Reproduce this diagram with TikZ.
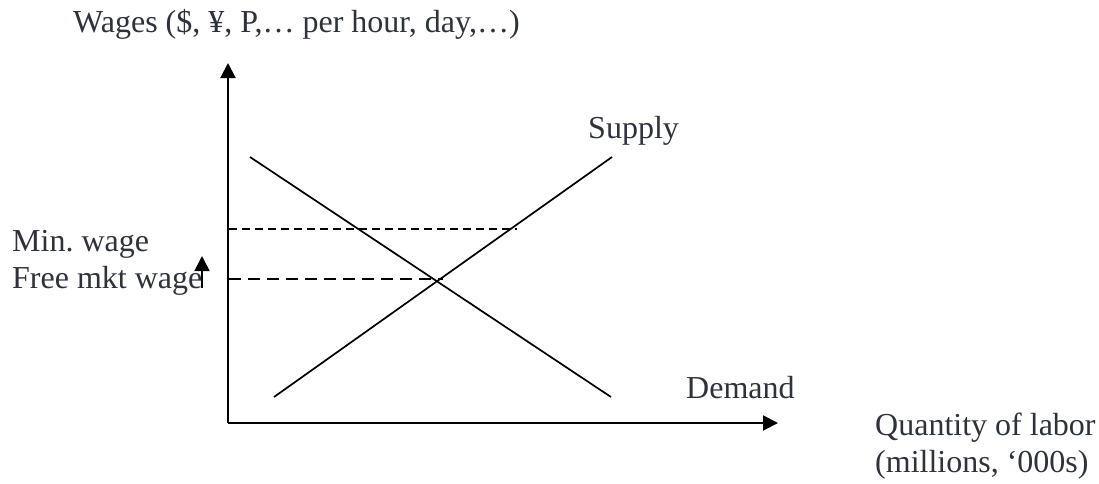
\documentclass[tikz,border=0pt]{standalone}
\usepackage{fontspec}
\setmainfont{Liberation Serif}
\usetikzlibrary{arrows.meta}
\definecolor{txt}{RGB}{45,50,60}
\begin{document}
\begin{tikzpicture}[x=1pt,y=-1pt,
  lbl/.style={text=txt,font=\fontsize{32}{37}\selectfont,inner sep=0pt,anchor=base west},
  tip/.style={-{Triangle[length=15pt,width=15pt]}},
  ax/.style={line width=2pt,tip},
  curve/.style={line width=1.7pt},
  dashA/.style={line width=1.7pt,dash pattern=on 8pt off 5pt},
  dashB/.style={line width=1.7pt,dash pattern=on 12pt off 7pt}]
\useasboundingbox (0,0) rectangle (1099,483);
\coordinate (O) at (228,423);
\coordinate (Ytip) at (228,63);
\coordinate (Xtip) at (778,423);
\draw[ax] (O) -- (Ytip);
\draw[ax] (O) -- (Xtip);
\coordinate (D1) at (250,157);
\coordinate (D2) at (611,397);
\coordinate (S1) at (274,397);
\coordinate (S2) at (612,157);
\draw[curve] (D1) -- (D2);
\draw[curve] (S1) -- (S2);
\coordinate (mw0) at (229,229);
\coordinate (mw1) at (517,229);
\coordinate (fw0) at (229,279);
\coordinate (fw1) at (443,279);
\draw[dashA] (mw0) -- (mw1);
\draw[dashB] (fw0) -- (fw1);
\coordinate (a0) at (202,288);
\coordinate (a1) at (202,256);
\draw[line width=1.7pt,tip] (a0) -- (a1);
\node[lbl] (wages) at (73,32) {Wages (\$, ¥, P,…\ per hour, day,…)};
\node[lbl] (supply) at (588,138) {Supply};
\node[lbl] (minw) at (12,251) {Min.\ wage};
\node[lbl] (free) at (12,288) {Free mkt wage};
\node[lbl] (demand) at (686,398) {Demand};
\node[lbl] (qty) at (875,435) {Quantity of labor};
\node[lbl] (mil) at (875,472) {(millions, ‘000s)};
\end{tikzpicture}
\end{document}
